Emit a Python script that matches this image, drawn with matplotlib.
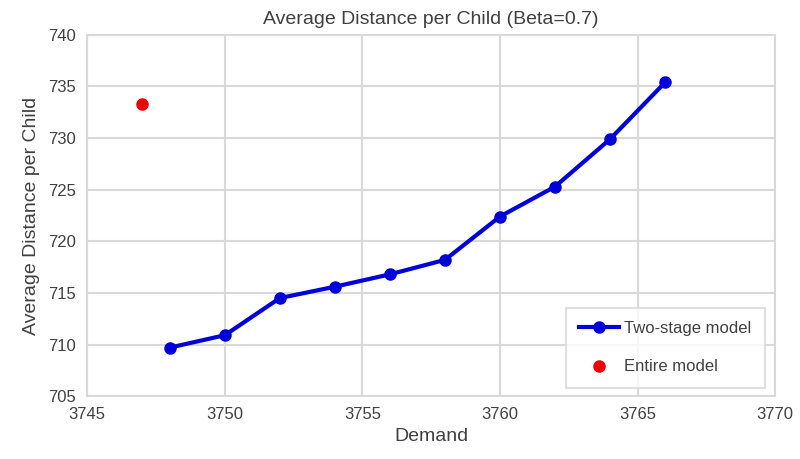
import matplotlib
matplotlib.use("Agg")
import matplotlib.pyplot as plt

plt.rcParams['font.family'] = ['Liberation Sans Narrow', 'Liberation Sans', 'DejaVu Sans']

# data
demand = [3748, 3750, 3752, 3754, 3756, 3758, 3760, 3762, 3764, 3766]
two_stage = [709.7, 710.9, 714.5, 715.6, 716.8, 718.2, 722.4, 725.3, 729.9, 735.4]
entire_x = [3747]
entire_y = [733.3]
xticks = [3745, 3750, 3755, 3760, 3765, 3770]
yticks = [705, 710, 715, 720, 725, 730, 735, 740]

fig = plt.figure(figsize=(8, 4.59), dpi=100)
ax = fig.add_axes([0.109, 0.137, 0.86, 0.787])

ax.plot(demand, two_stage, color='#0000d8', lw=3, marker='o', ms=8,
        label='Two-stage model', zorder=3)
ax.plot(entire_x, entire_y, ls='none', color='#ee0000', marker='o', ms=8,
        label='Entire model', zorder=3)

ax.set_xlim(3745, 3770)
ax.set_ylim(705, 740)
ax.set_xticks(xticks)
ax.set_yticks(yticks)
ax.grid(True, color='#d9d9d9', lw=1.5)
ax.set_axisbelow(True)
for s in ax.spines.values():
    s.set_color('#d9d9d9')
    s.set_linewidth(1.5)
ax.tick_params(length=0, labelsize=12, colors='#404040', pad=8)

ax.set_title('Average Distance per Child (Beta=0.7)', fontsize=14, color='#404040', pad=8)
ax.set_xlabel('Demand', fontsize=14, color='#404040', labelpad=4)
ax.set_ylabel('Average Distance per Child', fontsize=14, color='#404040', labelpad=6)

leg = ax.legend(loc='lower right', fontsize=12, fancybox=False, edgecolor='#d9d9d9',
                borderpad=0.8, labelspacing=1.4, handlelength=2.4, handletextpad=0.3,
                bbox_to_anchor=(0.997, 0.0))
leg.get_frame().set_linewidth(1.5)
for t in leg.get_texts():
    t.set_color('#404040')

fig.savefig('out.png', dpi=100)
